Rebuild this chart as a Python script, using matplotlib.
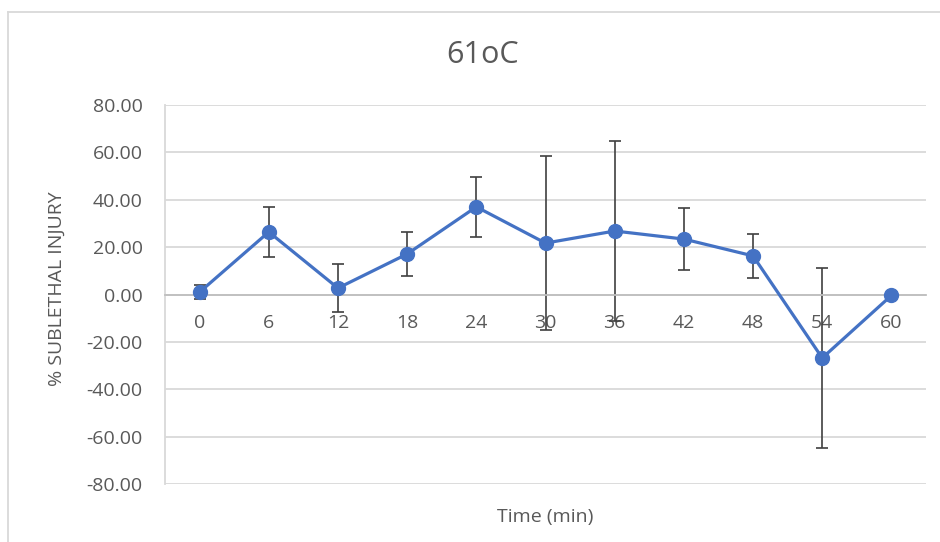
import matplotlib
matplotlib.use("Agg")
import matplotlib.pyplot as plt
from matplotlib.lines import Line2D

categories = ["0", "6", "12", "18", "24", "30", "36", "42", "48", "54", "60"]
injury = [1.0, 26.4, 2.7, 17.1, 37.0, 21.7, 26.8, 23.4, 16.3, -26.8, -0.4]
err = [2.8, 10.6, 10.1, 9.3, 12.7, 36.8, 38.0, 13.1, 9.2, 37.8, 0.0]
yticks = [-80, -60, -40, -20, 0, 20, 40, 60, 80]

plt.rcParams['font.family'] = ['Open Sans', 'DejaVu Sans']
txt = '#595959'
grid = '#D9D9D9'

fig = plt.figure(figsize=(9.4, 5.42), dpi=100)
ax = fig.add_axes([165/940, 1-484/542, (926-165)/940, (484-105)/542])

x = list(range(len(categories)))
ax.errorbar(x, injury, yerr=err, fmt='none', ecolor='#404040', elinewidth=1.2,
            capsize=4.5, capthick=1.2, zorder=2)
ax.plot(x, injury, color='#4472C4', lw=2.3, marker='o', ms=10, zorder=3)

ax.set_xlim(-0.5, len(categories)-0.5)
ax.set_ylim(-80, 80)
ax.set_yticks(yticks)
ax.set_yticklabels([f"{v:.2f}" for v in yticks])
ax.set_xticks(x)
ax.set_xticklabels(categories)
ax.yaxis.grid(True, color=grid, lw=1.3)
ax.set_axisbelow(True)
for s in ['top', 'right']:
    ax.spines[s].set_visible(False)
ax.spines['left'].set_color(grid)
ax.spines['left'].set_linewidth(1.3)
ax.spines['bottom'].set_position(('data', 0))
ax.spines['bottom'].set_color('#BFBFBF')
ax.spines['bottom'].set_linewidth(1.3)
ax.tick_params(axis='both', length=0, labelsize=14, colors=txt)
ax.tick_params(axis='y', pad=16)
ax.tick_params(axis='x', pad=14)

fig.text(483/940, 1-55/542, "61oC", ha='center', va='center', fontsize=22, color=txt)
fig.text(57/940, 1-289/542, "% SUBLETHAL INJURY", ha='center', va='center',
         rotation=90, fontsize=14, color=txt)
fig.text(545/940, 1-517/542, "Time (min)", ha='center', va='center', fontsize=14, color=txt)

fig.add_artist(Line2D([8/940, 1], [1-12/542, 1-12/542], color=grid, lw=1.3, transform=fig.transFigure))
fig.add_artist(Line2D([8/940, 8/940], [0, 1-12/542], color=grid, lw=1.3, transform=fig.transFigure))

fig.savefig("out.png", dpi=100)
